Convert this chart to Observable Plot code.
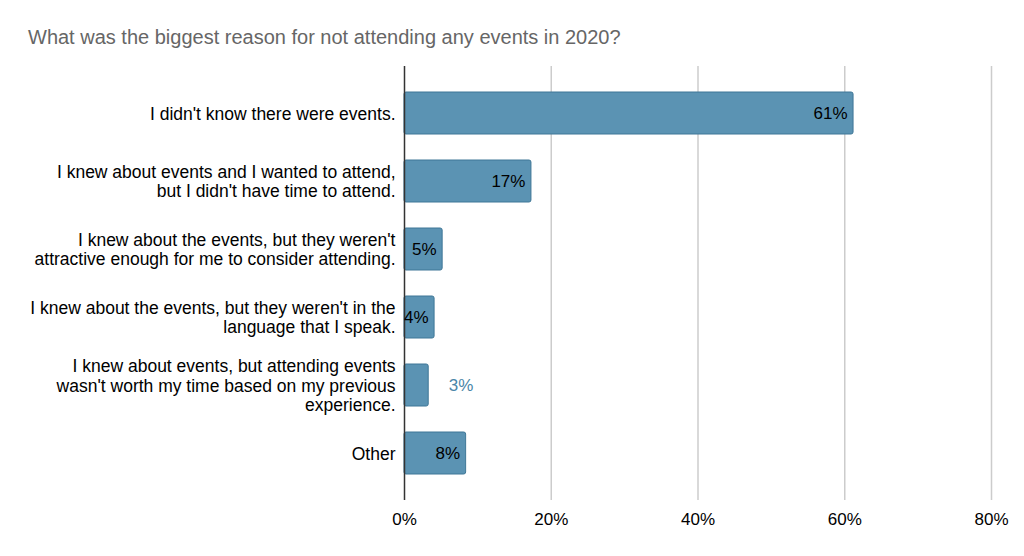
<!DOCTYPE html>
<html><head>
<script src="https://cdn.jsdelivr.net/npm/d3@7"></script>
<script src="https://cdn.jsdelivr.net/npm/@observablehq/plot@0.6"></script>
<style>
body{margin:0;background:#fff;font-family:Arial,"Liberation Sans",sans-serif;}
#wrap{position:relative;width:1024px;height:556px;}
#title{position:absolute;left:28px;top:26px;font-size:20px;color:#666;}
</style></head><body>
<div id="wrap"><div id="title">What was the biggest reason for not attending any events in 2020?</div></div>
<script>
const categories = [
 "I didn't know there were events.",
 "I knew about events and I wanted to attend,\nbut I didn't have time to attend.",
 "I knew about the events, but they weren't\nattractive enough for me to consider attending.",
 "I knew about the events, but they weren't in the\nlanguage that I speak.",
 "I knew about events, but attending events\nwasn't worth my time based on my previous\nexperience.",
 "Other"
];
const values = [61.2, 17.3, 5.2, 4.1, 3.3, 8.4];
const labels = ["61%","17%","5%","4%","3%","8%"];
const xTicks = [0,20,40,60,80];
const data = categories.map((c,i)=>({c, v:values[i], l:labels[i], inside: values[i] >= 4}));
const chart = Plot.plot({
  width:1024, height:556,
  marginLeft:404, marginRight:33, marginTop:85, marginBottom:74,
  style:{fontFamily:"Arial, 'Liberation Sans', sans-serif", fontSize:"17px", color:"#000"},
  x:{domain:[0,80], ticks:xTicks, tickFormat:d=>d+"%", tickSize:0, tickPadding:30, label:null},
  y:{domain:categories, paddingInner:0.38, paddingOuter:0.1, axis:null},
  marks:[
    Plot.ruleX(xTicks.filter(d=>d>0), {stroke:"#ccc", strokeWidth:1.5, insetTop:-19, insetBottom:-18}),
    Plot.barX(data, {x:"v", y:"c", fill:"#5b93b3", stroke:"#3f7797", strokeWidth:1, rx:2}),
    Plot.ruleX([0], {stroke:"#333", strokeWidth:1.5, insetTop:-19, insetBottom:-18}),
    Plot.text(data, {x:0, y:"c", text:"c", textAnchor:"end", dx:-9, fontSize:17.5, fill:"#000", lineHeight:1.1}),
    Plot.text(data.filter(d=>d.inside), {x:"v", y:"c", text:"l", textAnchor:"end", dx:-6, fontSize:17, fill:"#000"}),
    Plot.text(data.filter(d=>!d.inside), {x:"v", y:"c", text:"l", textAnchor:"start", dx:20, fontSize:17, fill:"#4a86a8"})
  ]
});
document.getElementById("wrap").appendChild(chart);
chart.style.position="absolute"; chart.style.left="0"; chart.style.top="0";
</script></body></html>
